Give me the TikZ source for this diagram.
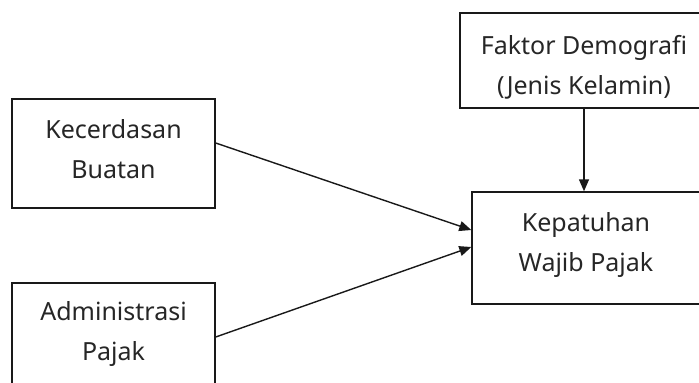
\documentclass[tikz,border=0pt]{standalone}
\usepackage{fontspec}
\setmainfont{Noto Sans}
\usetikzlibrary{arrows.meta,calc}
\tikzset{
  box/.style={draw=black!90, line width=1.4bp, inner sep=0pt},
  txt/.style={align=center, font=\fontsize{25bp}{40bp}\selectfont, inner sep=0pt, text=black!85},
  arr/.style={draw=black!90, line width=1.4bp, -{Triangle[length=12bp,width=10bp]}}
}
\begin{document}
\begin{tikzpicture}[x=1bp,y=-1bp]
\useasboundingbox (0,0) rectangle (699,382);
\clip (0,0) rectangle (699,382);
\node[box, minimum width=203bp, minimum height=109bp] (k) at (113.5,153.5) {};
\node[box, minimum width=203bp, minimum height=109bp] (a) at (113.5,337.5) {};
\node[box, minimum width=248bp, minimum height=95bp] (f) at (584,60.5) {};
\node[box, minimum width=228bp, minimum height=112bp] (p) at (586,248) {};
\node[txt] (kt) at ($(k.center)+(0,-4.5)$) {Kecerdasan\\Buatan};
\node[txt] (at) at ($(a.center)+(0,-3.5)$) {Administrasi\\Pajak};
\node[txt] (ft) at ($(f.center)+(0,6.5)$) {Faktor Demografi\\(Jenis Kelamin)};
\node[txt] (pt) at ($(p.center)+(0,-3)$) {Kepatuhan\\Wajib Pajak};
\draw[arr] ([yshift=10.5bp]k.east) -- ([yshift=18bp]p.west);
\draw[arr] ([yshift=0.5bp]a.east) -- ([yshift=1bp]p.west);
\draw[arr] (f.south) -- (f.south |- p.north);
\end{tikzpicture}
\end{document}
